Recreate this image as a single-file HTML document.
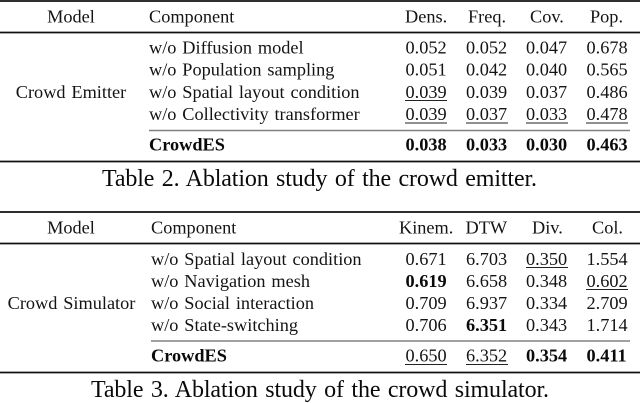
<!DOCTYPE html>
<html>
<head>
<meta charset="utf-8">
<style>
html,body{margin:0;padding:0;background:#fff;width:640px;height:403px;overflow:hidden}
svg{display:block;filter:blur(0.35px)}
text{font-family:"Liberation Serif",serif;font-size:18.3px;fill:#141414;word-spacing:1.3px}
.b{font-weight:bold;fill:#0a0a0a}
.c{font-size:24px;fill:#0a0a0a;word-spacing:1.6px}
.r{stroke:#111;stroke-width:1.7}
.g{stroke:#808080;stroke-width:1.6}
.u{stroke:#222;stroke-width:1.1}
</style>
</head>
<body>
<svg width="640" height="403" viewBox="0 0 640 403">
<g>
<line class="r" x1="0" x2="640" y1="1" y2="1"/>
<line class="r" x1="0" x2="640" y1="32.5" y2="32.5"/>
<line class="g" x1="149" x2="630" y1="130.5" y2="130.5"/>
<line class="r" x1="0" x2="640" y1="161.5" y2="161.5"/>
<text x="71" y="22.5" text-anchor="middle">Model</text>
<text x="149" y="22.5">Component</text>
<text x="405" y="22.5">Dens.</text>
<text x="468" y="22.5">Freq.</text>
<text x="530" y="22.5">Cov.</text>
<text x="590" y="22.5">Pop.</text>
<text x="71" y="98" text-anchor="middle">Crowd Emitter</text>
<text x="149" y="53.5">w/o Diffusion model</text>
<text x="149" y="75.5">w/o Population sampling</text>
<text x="149" y="98">w/o Spatial layout condition</text>
<text x="149" y="120">w/o Collectivity transformer</text>
<text x="149" y="150.5" class="b">CrowdES</text>
<g>
<text x="405.5" y="53.5">0.052</text><text x="466" y="53.5">0.052</text><text x="526" y="53.5">0.047</text><text x="586.5" y="53.5">0.678</text>
<text x="405.5" y="75.5">0.051</text><text x="466" y="75.5">0.042</text><text x="526" y="75.5">0.040</text><text x="586.5" y="75.5">0.565</text>
<text x="405.5" y="98">0.039</text><text x="466" y="98">0.039</text><text x="526" y="98">0.037</text><text x="586.5" y="98">0.486</text>
<text x="405.5" y="120">0.039</text><text x="466" y="120">0.037</text><text x="526" y="120">0.033</text><text x="586.5" y="120">0.478</text>
<text x="405.5" y="150.5" class="b">0.038</text><text x="466" y="150.5" class="b">0.033</text><text x="526" y="150.5" class="b">0.030</text><text x="586.5" y="150.5" class="b">0.463</text>
</g>
<line class="u" x1="405" x2="447" y1="100.5" y2="100.5"/>
<line class="u" x1="405" x2="447" y1="123" y2="123"/>
<line class="u" x1="466" x2="508" y1="123" y2="123"/>
<line class="u" x1="526" x2="568" y1="123" y2="123"/>
<line class="u" x1="586" x2="628" y1="123" y2="123"/>
<text class="c" x="102" y="186" textLength="435">Table 2. Ablation study of the crowd emitter.</text>
</g>
<g>
<line class="r" x1="0" x2="640" y1="212" y2="212"/>
<line class="r" x1="0" x2="640" y1="243.5" y2="243.5"/>
<line class="g" x1="151" x2="630" y1="341" y2="341"/>
<line class="r" x1="0" x2="640" y1="372.5" y2="372.5"/>
<text x="71" y="233.5" text-anchor="middle">Model</text>
<text x="151" y="233.5">Component</text>
<text x="399" y="233.5">Kinem.</text>
<text x="465.5" y="233.5">DTW</text>
<text x="532" y="233.5">Div.</text>
<text x="592" y="233.5">Col.</text>
<text x="71.5" y="309" text-anchor="middle">Crowd Simulator</text>
<text x="151" y="265">w/o Spatial layout condition</text>
<text x="151" y="287">w/o Navigation mesh</text>
<text x="151" y="309">w/o Social interaction</text>
<text x="151" y="331">w/o State-switching</text>
<text x="151" y="361.5" class="b">CrowdES</text>
<g>
<text x="405.5" y="265">0.671</text><text x="466" y="265">6.703</text><text x="526" y="265">0.350</text><text x="586.5" y="265">1.554</text>
<text x="405.5" y="287" class="b">0.619</text><text x="466" y="287">6.658</text><text x="526" y="287">0.348</text><text x="586.5" y="287">0.602</text>
<text x="405.5" y="309">0.709</text><text x="466" y="309">6.937</text><text x="526" y="309">0.334</text><text x="586.5" y="309">2.709</text>
<text x="405.5" y="331">0.706</text><text x="466" y="331" class="b">6.351</text><text x="526" y="331">0.343</text><text x="586.5" y="331">1.714</text>
<text x="405.5" y="361.5">0.650</text><text x="466" y="361.5">6.352</text><text x="526" y="361.5" class="b">0.354</text><text x="586.5" y="361.5" class="b">0.411</text>
</g>
<line class="u" x1="526" x2="568" y1="267.5" y2="267.5"/>
<line class="u" x1="586" x2="628" y1="289.5" y2="289.5"/>
<line class="u" x1="405" x2="447" y1="364.5" y2="364.5"/>
<line class="u" x1="466" x2="508" y1="364.5" y2="364.5"/>
<text class="c" x="91" y="397" textLength="458">Table 3. Ablation study of the crowd simulator.</text>
</g>
</svg>
</body>
</html>
